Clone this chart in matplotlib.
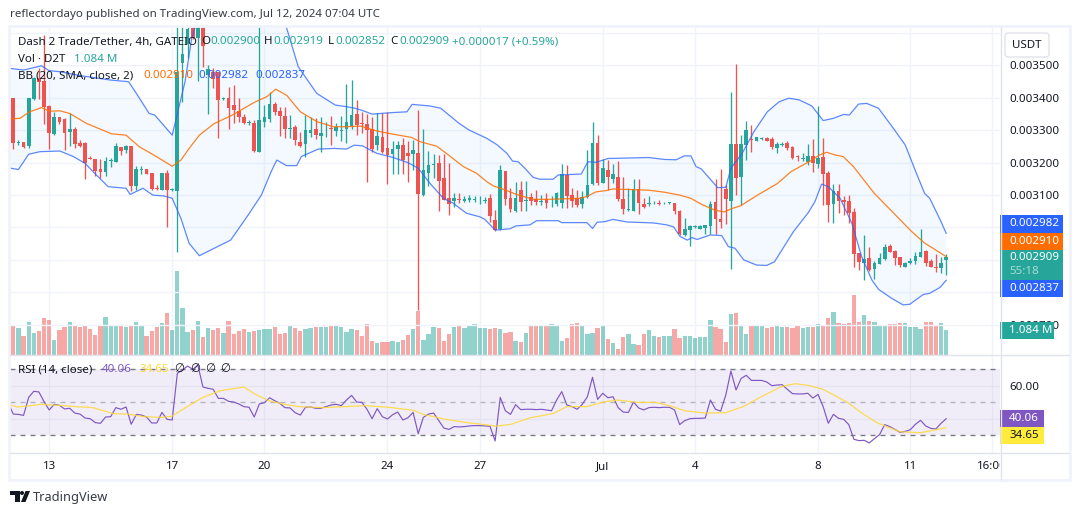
import numpy as np
import matplotlib
matplotlib.use('Agg')
import matplotlib.pyplot as plt
from matplotlib.patches import Rectangle, Circle, Polygon, FancyBboxPatch
from matplotlib.transforms import Bbox

plt.rcParams['font.family'] = ['Noto Sans', 'DejaVu Sans']

# prices are in units of 0.000001 USDT
opens = [3399,3261,3263,3252,3396,3462,3452,3376,3290,3340,
         3335,3294,3304,3261,3261,3214,3212,3180,3170,3205,
         3202,3248,3239,3252,3128,3176,3180,3168,3122,3117,
         3169,3117,3114,3509,3565,3615,3584,3660,3471,3481,
         3481,3397,3400,3378,3361,3341,3322,3322,3234,3327,
         3335,3381,3359,3345,3305,3311,3265,3258,3293,3304,
         3283,3294,3308,3298,3299,3304,3313,3350,3322,3319,
         3303,3254,3279,3245,3226,3242,3254,3230,3227,3230,
         3099,3169,3193,3199,3153,3091,3082,3088,3083,3085,
         3086,3090,3083,3091,3023,2994,3174,3091,3052,3116,
         3083,3093,3087,3079,3088,3075,3072,3075,3163,3100,
         3090,3072,3094,3134,3261,3138,3177,3150,3156,3088,
         3055,3051,3119,3073,3073,3075,3077,3075,3076,3075,
         3052,2977,2992,3000,2996,2997,3006,3079,3026,3119,
         3082,3258,3157,3256,3273,3267,3273,3276,3273,3245,
         3256,3261,3249,3221,3211,3203,3221,3196,3218,3168,
         3072,3113,3084,3081,3048,2920,2889,2906,2872,2888,
         2903,2943,2927,2909,2878,2890,2896,2909,2928,2896,
         2878,2875,2900]
highs = [3399,3270,3265,3401,3466,3491,3594,3378,3355,3340,
         3339,3352,3310,3270,3265,3221,3212,3210,3219,3213,
         3261,3248,3255,3252,3191,3191,3180,3168,3131,3169,
         3177,3123,3646,3640,3640,3640,3680,3680,3502,3493,
         3481,3404,3435,3440,3399,3349,3332,3332,3620,3378,
         3419,3388,3373,3373,3347,3316,3296,3347,3342,3337,
         3342,3327,3344,3321,3344,3443,3455,3393,3356,3350,
         3342,3352,3354,3355,3268,3267,3275,3268,3270,3363,
         3304,3236,3227,3224,3227,3200,3107,3107,3097,3100,
         3097,3098,3095,3103,3054,3193,3174,3121,3141,3143,
         3143,3105,3116,3100,3105,3097,3108,3195,3193,3121,
         3116,3114,3239,3326,3285,3210,3208,3195,3205,3155,
         3121,3150,3150,3090,3097,3083,3085,3079,3080,3075,
         3054,3028,3008,3008,3008,3008,3082,3149,3181,3131,
         3417,3505,3285,3329,3316,3279,3279,3280,3279,3265,
         3265,3267,3252,3224,3230,3258,3273,3375,3275,3174,
         3134,3134,3097,3100,3060,2920,2977,2939,2897,2921,
         2948,2948,2930,2909,2893,2905,2923,2995,2930,2903,
         2918,2909,2919]
lows = [3242,3255,3244,3246,3393,3397,3319,3242,3285,3319,
        3239,3252,3246,3248,3150,3210,3160,3152,3160,3188,
        3202,3224,3230,3114,3116,3166,3166,3116,3115,3117,
        3000,3113,2925,3386,3522,3582,3453,3496,3350,3429,
        3277,3393,3304,3321,3327,3320,3316,3234,3234,3311,
        3327,3347,3282,3275,3277,3255,3249,3219,3280,3272,
        3232,3280,3254,3283,3267,3262,3303,3285,3293,3141,
        3234,3239,3231,3134,3165,3165,3165,3141,3177,2745,
        3097,3129,3154,3052,3085,3038,3062,3076,3078,3080,
        3078,3072,3077,3018,2990,2992,3069,3049,3049,3051,
        3052,3069,3068,3069,3061,3064,3067,3061,3059,3062,
        3062,3061,3092,3131,3131,3136,3116,3136,3083,3042,
        3052,3051,3042,3061,3066,3071,3070,3072,3074,3042,
        2977,2975,2943,2997,2995,2980,2980,2980,2999,3011,
        2872,3100,3069,3208,3233,3267,3269,3266,3243,3231,
        3250,3240,3211,3205,3205,3193,3172,3185,3069,3018,
        3015,3046,3038,3015,2878,2869,2838,2866,2841,2886,
        2900,2923,2884,2879,2878,2887,2887,2909,2882,2877,
        2863,2859,2852]
closes = [3262,3263,3247,3401,3462,3450,3373,3291,3341,3327,
          3293,3304,3258,3252,3198,3212,3175,3170,3205,3208,
          3251,3236,3251,3128,3180,3179,3166,3119,3119,3169,
          3117,3119,3481,3535,3613,3584,3660,3560,3489,3458,
          3395,3399,3370,3362,3342,3322,3325,3236,3332,3340,
          3381,3356,3344,3304,3307,3270,3252,3301,3301,3285,
          3293,3296,3305,3311,3301,3325,3347,3316,3319,3301,
          3243,3282,3233,3224,3242,3254,3208,3221,3239,3103,
          3177,3193,3195,3143,3086,3074,3091,3086,3088,3091,
          3088,3092,3085,3036,2992,3177,3088,3056,3090,3080,
          3085,3082,3080,3082,3076,3077,3105,3165,3097,3083,
          3069,3094,3131,3262,3136,3184,3156,3165,3088,3057,
          3058,3119,3077,3063,3075,3077,3074,3077,3078,3052,
          2980,2995,3005,3005,3005,3007,3072,3026,3017,3088,
          3258,3154,3258,3301,3271,3279,3275,3267,3248,3258,
          3258,3245,3214,3219,3213,3221,3200,3216,3166,3069,
          3113,3082,3079,3046,2919,2893,2903,2869,2890,2906,
          2940,2924,2906,2884,2890,2896,2912,2923,2890,2878,
          2876,2890,2909]
# volume in thousands of D2T
volumes = [1305,1170,810,1440,945,1035,1620,1530,630,1080,
           1215,1440,1260,1215,1260,1125,855,1305,1665,1305,
           1260,1260,1215,1305,1440,1260,810,1035,1215,1395,
           1845,1080,3735,2070,990,1080,1485,765,1170,1080,
           1170,945,1485,900,1035,1125,990,1035,1080,1125,
           1125,1215,900,945,1260,1170,1035,1125,1170,1215,
           1215,1215,1260,1260,1215,990,1125,1080,810,1350,
           585,495,540,570,585,540,630,855,1125,1935,
           630,900,1215,1170,585,900,1215,1305,1170,1260,
           1350,1170,1170,1125,1170,1125,945,990,585,540,
           945,1260,1260,1260,1305,1350,1305,585,720,1350,
           1395,1305,900,945,1170,1260,675,495,225,765,
           900,450,405,900,1080,810,765,810,810,1125,
           720,810,810,720,765,765,1530,1215,1125,540,
           1800,1845,1305,900,1305,1260,1305,1170,1215,1260,
           1215,1215,1170,1260,1170,1215,1215,1350,1305,1620,
           1890,1395,1350,1395,2655,1440,1755,1485,1440,1260,
           1305,1350,1350,1395,1395,1215,1215,1125,1440,1440,
           1305,1395,1084]
# one RSI value per bar, the first one is the bar before the view
rsi = [49.4,42.9,42.7,42.1,53.0,56.7,56.3,50.4,45.4,48.8,48.2,
       46.0,46.4,43.5,42.9,40.5,40.1,37.7,37.3,41.1,41.3,
       46.8,45.8,47.2,36.7,42.7,42.3,41.1,37.5,37.5,43.9,
       39.7,39.3,67.6,69.6,72.0,70.0,72.6,59.3,58.5,57.9,
       52.4,52.4,50.6,50.2,49.0,47.4,47.0,41.1,49.0,49.8,
       52.8,51.0,49.4,46.8,46.6,43.7,42.3,47.0,47.2,46.4,
       46.4,47.4,48.4,48.8,48.0,51.4,54.2,50.2,50.0,45.8,
       40.1,46.2,41.3,39.9,42.5,44.1,39.3,40.7,43.9,31.0,
       40.9,42.9,43.5,38.9,34.4,33.6,35.3,35.1,35.3,35.7,
       35.9,35.9,35.7,35.5,26.6,53.0,44.9,42.7,48.6,45.6,
       45.8,45.8,45.6,45.8,45.4,44.9,51.4,56.5,48.4,47.4,
       45.8,48.8,53.4,65.2,51.8,55.5,52.8,53.4,46.8,44.1,
       43.9,50.2,46.6,45.4,46.8,47.0,46.8,47.0,47.0,45.4,
       36.5,38.9,40.1,40.3,40.3,40.5,51.4,45.8,44.7,54.4,
       69.0,57.5,64.5,66.4,63.3,63.3,63.3,62.3,60.1,60.5,
       60.7,57.9,55.3,55.1,55.1,55.5,52.6,54.8,47.4,37.3,
       42.7,40.3,39.7,36.5,27.6,26.8,27.0,25.4,28.0,30.4,
       36.5,35.3,33.6,31.8,32.4,33.4,36.7,39.1,35.7,34.2,
       33.9,37.3,40.06]

# bollinger bands and RSI average, read at their bends (bar number, value)
upper_x = [-0.6,2,5.5,7,9,13,19,22.5,24,26.5,27.6,31,33.5,34.8,35.5,40,46,50,53.3,55.6,59.2,62.8,65,66.7,68.3,70,74.3,76.8,77.8,81.3,83.4,87,88.9,92.4,94.4,96.3,97.4,98.5,99.8,101.4,102.7,105.3,106.3,110.8,112.1,113.7,116,124,127,129.3,130.9,132.2,133.2,134.2,136.1,137.4,139,140,142.2,144.5,147.1,149.4,151.3,153.3,155.8,158,160,162,163.1,164.9,166.5,168.8,171.7,174,176.2,177.8,178.8,181,182]
upper_y = [3491,3486,3499,3484,3481,3469,3455,3450,3414,3352,3347,3285,3450,3584,3620,3800,3860,3760,3617,3496,3414,3378,3373,3368,3360,3350,3355,3357,3380,3375,3368,3321,3301,3275,3255,3229,3205,3203,3183,3155,3149,3149,3162,3165,3203,3201,3213,3216,3210,3209,3221,3221,3188,3181,3147,3123,3124,3183,3229,3296,3357,3388,3399,3394,3375,3330,3337,3349,3347,3381,3383,3368,3306,3255,3167,3105,3090,3018,2982]
basis_x = [-0.6,1.3,3.2,5.5,7.1,9.1,11,14.3,16.9,19.2,22,24.6,27.9,31,32.7,34.3,36.3,39.2,42.5,47,49.5,51.2,53.4,56,59.2,62.4,65,67.7,70.9,74.1,77.7,79.3,82.6,85.2,87.8,90.4,92.4,93.7,95.6,98.2,101.4,104.6,110.5,111.8,113.7,115.7,117,124,127,130,132.2,134.2,136.8,138.7,140.3,141.9,145.2,149.1,151.7,155.8,157.3,158.7,160.3,161.9,163.9,168,171.9,175.1,177.7,182]
basis_y = [3335,3337,3357,3370,3359,3360,3352,3321,3304,3289,3285,3249,3219,3189,3208,3244,3285,3321,3345,3386,3404,3427,3407,3357,3327,3311,3311,3313,3298,3288,3278,3265,3251,3220,3188,3167,3141,3128,3118,3102,3087,3087,3090,3095,3110,3114,3119,3115,3109,3100,3090,3072,3054,3048,3059,3067,3100,3136,3172,3208,3224,3232,3224,3219,3188,3105,3042,2990,2953,2910]
lower_x = [-0.6,1,3,5.2,9.1,11.7,14,16.2,18.5,22,22.8,25.3,27.2,29.5,31,32.7,34.3,36.3,42.4,45.8,48.4,50.3,51.4,53.3,55.3,56.2,59.5,62.7,65,66.5,68.1,70.9,74.1,77,79,81.3,83.9,85.8,88.4,91,92,94,96.9,98.1,100.8,102.1,106.3,107,111.9,113,113.9,115.4,117,119.7,124.9,127.5,128.8,130.1,131.5,132.4,133.4,136,138.2,139.5,140.8,142.5,145,147,148.5,152.2,155.1,156.4,157.7,159,161.3,163.6,165.5,167.5,168.8,171.4,173.6,174.9,177.5,178.8,180.8,182]
lower_y = [3183,3179,3226,3234,3236,3219,3198,3162,3126,3121,3102,3121,3100,3097,3090,3028,2951,2913,2961,3038,3100,3172,3208,3191,3191,3219,3242,3244,3242,3254,3252,3229,3216,3200,3183,3136,3090,3075,3044,3033,3025,2992,2996,3005,3008,3021,3021,3015,3015,2997,3016,3018,3025,3017,3014,3008,3002,2972,2961,2969,2963,2977,2975,2941,2936,2900,2884,2883,2894,2987,3046,3080,3134,3126,3090,3013,2910,2838,2809,2781,2761,2763,2793,2797,2815,2837]
rsi_ma_x = [-0.6,0.8,2.8,5.5,8.8,12.2,15.5,17.6,19.6,22.3,25.6,29,30.9,33.7,37,40.4,45,47.1,49.8,53.2,55.8,60.5,64.6,68.6,73.3,78,80,84,88.1,93.5,94.1,97.1,100.9,102.75,105.4,108,111.8,115.5,117.9,121.6,125.3,128,131,135,139,142.4,145.7,149.8,152.5,155.1,157.8,160.5,163,165.9,168.6,172.95,177,182]
rsi_ma_y = [48.4,47.2,47.8,48.8,48.2,47.4,46.8,44.9,43.1,42.9,41.3,40.9,41.5,47.0,53.0,57.1,59.3,55.1,51.0,48.6,47.4,46.8,47.4,48.0,47.0,45.2,42.7,39.9,37.9,35.9,35.5,36.7,40.7,41.7,43.3,47.4,47.4,50.4,51.4,50.0,50.0,48.0,44.9,43.5,43.7,47.4,53.0,59.5,61.3,60.3,58.1,53.8,49.4,42.7,37.5,32.2,31.6,34.65]

date_ticks = [7, 31, 49, 73, 91, 115, 133, 157, 175, 191]
date_labels = ['13', '17', '20', '24', '27', 'Jul', '4', '8', '11', '16:00']
price_ticks = [2700, 2800, 2900, 3000, 3100, 3200, 3300, 3400, 3500, 3600]
# these sit under the value boxes and the USDT button in the picture
hidden_prices = [2800, 2900, 3000, 3600]

GREEN = '#26a69a'
RED = '#ef5350'
BLUE = '#2962ff'
ORANGE = '#ff6d00'
PURPLE = '#7e57c2'
YELLOW = '#ffeb3b'
GRID = '#f0f3fa'
EDGE = '#e0e3eb'
DARK = '#131722'
W, H = 1080, 515
FS = 8.3


def pane(left, top, right, bottom):
    return fig.add_axes([left / W, 1 - bottom / H, (right - left) / W, (bottom - top) / H])


fig = plt.figure(figsize=(W / 100, H / 100), dpi=100)

n = len(closes)
bars = np.arange(n)
o, h, l, c = [np.array(v, dtype=float) for v in (opens, highs, lows, closes)]
up = c >= o
colors = np.where(up, GREEN, RED)
xlim = (-0.644, 192.5)

# volume sits behind the candles on its own scale
ax_vol = pane(10, 27, 1000, 354.5)
ax_vol.bar(bars, volumes, width=0.84, color=colors, alpha=0.5, linewidth=0)
ax_vol.set_xlim(xlim)
ax_vol.set_ylim(0, 14737)
ax_vol.set_xticks(date_ticks)
ax_vol.set_yticks([])
ax_vol.tick_params(length=0, labelbottom=False)
ax_vol.grid(axis='x', color=GRID, lw=1)
ax_vol.set_axisbelow(True)
for s in ax_vol.spines.values():
    s.set_visible(False)

ax = pane(10, 27, 1000, 354.5)
ax.patch.set_alpha(0)
ax.fill(upper_x + lower_x[::-1], upper_y + lower_y[::-1], color='#2196f3', alpha=0.05, lw=0)
ax.vlines(bars, l, h, colors=colors, lw=0.95, zorder=3)
ax.bar(bars, np.maximum(np.abs(c - o), 1.5), bottom=np.minimum(o, c), width=0.72, color=colors, linewidth=0, zorder=3)
ax.plot(upper_x, upper_y, color=BLUE, lw=0.9, alpha=0.75, zorder=4)
ax.plot(lower_x, lower_y, color=BLUE, lw=0.9, alpha=0.75, zorder=4)
ax.plot(basis_x, basis_y, color=ORANGE, lw=0.9, alpha=0.85, zorder=4)
ax.set_xlim(xlim)
ax.set_ylim(2608, 3618.8)
ax.set_xticks([])
ax.yaxis.tick_right()
ax.set_yticks(price_ticks)
ax.set_yticklabels(['' if v in hidden_prices else '%.6f' % (v / 1e6) for v in price_ticks], fontsize=FS, color=DARK)
ax.tick_params(axis='y', length=0, pad=6.5)
ax.grid(axis='y', color=GRID, lw=1)
ax.set_axisbelow(True)
for s in ax.spines.values():
    s.set_visible(False)

# RSI pane
ax_rsi = pane(10, 355, 1000, 452.5)
ax_rsi.axhspan(30, 70, color=PURPLE, alpha=0.1, lw=0)
for lev, col in ((70, '#787b86'), (50, '#b2b5be'), (30, '#787b86')):
    ax_rsi.axhline(lev, color=col, lw=1, dashes=(3.6, 3.6))
ax_rsi.plot(np.arange(-1, n), rsi, color=PURPLE, lw=0.85)
ax_rsi.plot(rsi_ma_x, rsi_ma_y, color='#fdd835', lw=0.9, alpha=0.85)
ax_rsi.set_xlim(xlim)
ax_rsi.set_ylim(19.6, 78.7)
ax_rsi.set_xticks(date_ticks)
ax_rsi.set_xticklabels(date_labels, fontsize=FS, color=DARK)
ax_rsi.yaxis.tick_right()
ax_rsi.set_yticks([40, 60])
ax_rsi.set_yticklabels(['', '60.00'], fontsize=FS, color=DARK)
ax_rsi.tick_params(axis='both', length=0)
ax_rsi.tick_params(axis='y', pad=6.5)
ax_rsi.tick_params(axis='x', pad=6)
ax_rsi.grid(axis='both', color=GRID, lw=1)
ax_rsi.set_axisbelow(True)
for s in ax_rsi.spines.values():
    s.set_visible(False)
# the last time label runs into the price scale
ax_rsi.get_xticklabels()[-1].set_clip_box(Bbox([[0, 0], [1000, H]]))

# overlay in picture pixels for frame, labels and legend text
top = fig.add_axes([0, 0, 1, 1])
top.set_xlim(0, W)
top.set_ylim(H, 0)
top.axis('off')
top.patch.set_alpha(0)

top.add_patch(Rectangle((9, 26), 1061, 454, fill=False, ec=GRID, lw=2))
top.plot([1000.5, 1000.5], [27, 479], color=EDGE, lw=1)
top.plot([10, 1069], [355, 355], color=EDGE, lw=1)
top.plot([10, 1069], [452.5, 452.5], color=EDGE, lw=1)


def txt(x, y, s, color=DARK, size=FS, ha='left', **kw):
    return top.text(x, y, s, color=color, fontsize=size, ha=ha, va='center', **kw)


txt(10, 15, 'reflectordayo published on TradingView.com, Jul 12, 2024 07:04 UTC', color='#363a45')

# legend lines
txt(18, 42, 'Dash 2 Trade/Tether, 4h, GATEIO')
txt(201, 42, 'O')
txt(210, 42, '0.002900', GREEN)
txt(264, 42, 'H')
txt(273, 42, '0.002919', GREEN)
txt(328, 42, 'L')
txt(335, 42, '0.002852', GREEN)
txt(390, 42, 'C')
txt(399, 42, '0.002909', GREEN)
txt(452, 42, '+0.000017 (+0.59%)', GREEN)
txt(18, 59, 'Vol · D2T')
txt(74, 59, '1.084 M', GREEN)
txt(18, 76, 'BB (20, SMA, close, 2)')
txt(143, 76, '0.002910', ORANGE)
txt(198, 76, '0.002982', BLUE)
txt(255, 76, '0.002837', BLUE)
txt(18, 369.5, 'RSI (14, close)')
txt(102, 369.5, '40.06', PURPLE)
txt(139, 369.5, '34.65', '#fdd835')
for x in (179, 195, 210, 225):
    txt(x, 369.5, '∅', ha='center')

# USDT button
top.add_patch(FancyBboxPatch((1005, 33), 44, 24, boxstyle='round,pad=0,rounding_size=3',
                             fc='white', ec=EDGE, lw=1))
txt(1027, 45, 'USDT', ha='center')


def box(y0, y1, s, fc, tc='white', x1=1062.5, s2=None):
    top.add_patch(Rectangle((1000, y0), x1 - 1000, y1 - y0, fc=fc, ec='none'))
    if s2 is None:
        txt(1009, (y0 + y1) / 2, s, tc)
    else:
        txt(1009, y0 + 8.5, s, tc)
        txt(1009, y0 + 22.5, s2, '#a8dbd6')


box(215, 232.5, '0.002982', BLUE)
box(232.5, 249.5, '0.002910', ORANGE)
box(249.5, 280, '0.002909', GREEN, s2='55:18')
box(280, 297, '0.002837', BLUE)
box(322, 339, '1.084 M', GREEN, x1=1054)
box(410, 427, '40.06', PURPLE, x1=1044)
box(427, 444, '34.65', YELLOW, tc=DARK, x1=1044)

# TradingView mark
top.add_patch(Rectangle((10, 491), 9.5, 4, fc=DARK, ec='none'))
top.add_patch(Rectangle((15, 491), 4.5, 11, fc=DARK, ec='none'))
top.add_patch(Circle((22, 493), 2, fc=DARK, ec='none'))
top.add_patch(Polygon([[25.5, 491], [30, 491], [25.5, 502], [21, 502]], fc=DARK, ec='none'))
txt(33, 497, 'TradingView', color='#363a45', size=9.2)

fig.savefig('out.png', dpi=100)
